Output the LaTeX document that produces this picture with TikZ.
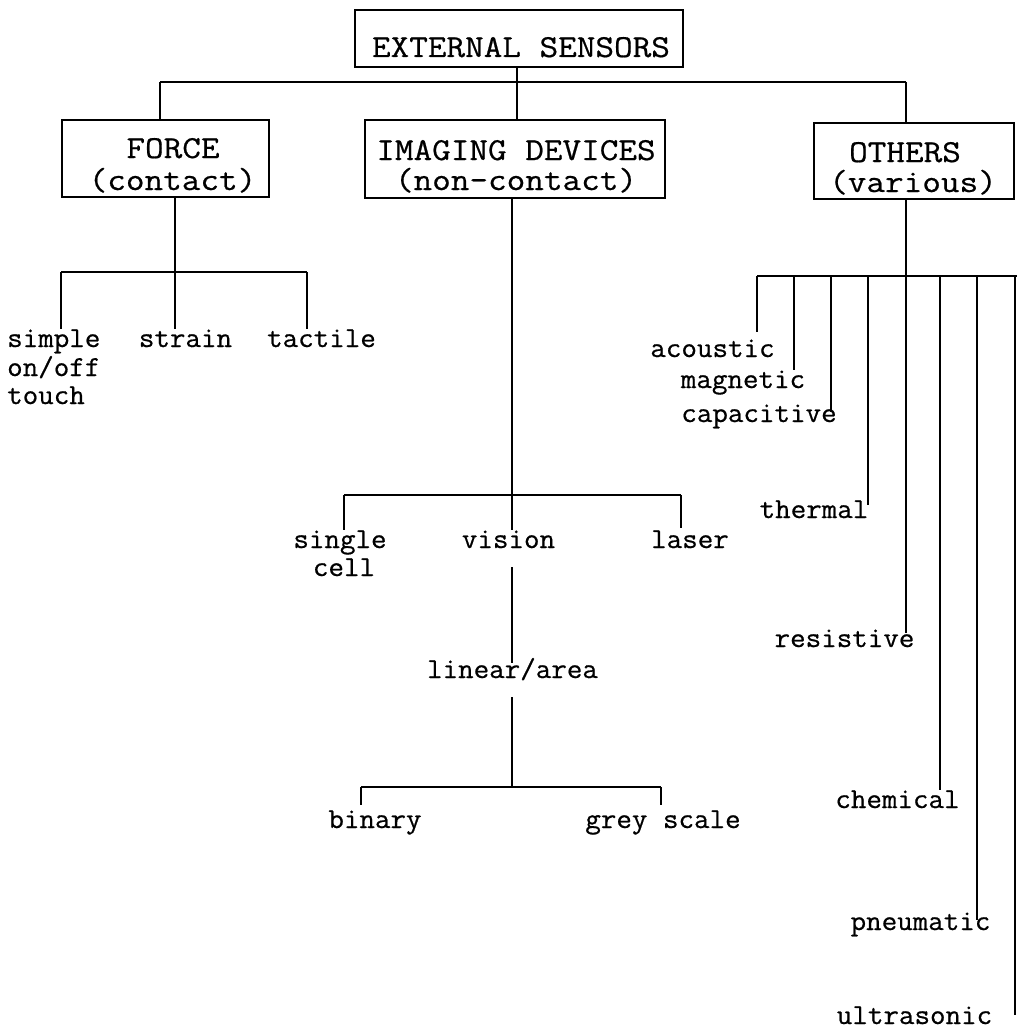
\documentclass[tikz,border=0pt]{standalone}
\usepackage{fontspec}
\newfontfamily\courT[FakeStretch=1.13,FakeBold=0.6]{Latin Modern Mono}
\newfontfamily\courL[FakeStretch=1.04,FakeBold=0.6]{Latin Modern Mono}
\begin{document}
\begin{tikzpicture}[x=1pt,y=-1pt,
  conn/.style={line width=2.2pt},
  box/.style={draw,line width=2.2pt,rectangle,inner sep=0pt},
  big/.style={font=\fontsize{32}{32}\selectfont\courT,inner sep=0pt,anchor=base},
  lab/.style={font=\fontsize{29}{29}\selectfont\courL,inner sep=0pt,anchor=base}]
\useasboundingbox[fill=white] (0,0) rectangle (1018,1030);

% ---- boxes ----
\node[box,minimum width=328pt,minimum height=57pt] (root) at (519,38.5) {};
\node[big] (rootT) at (521,57) {EXTERNAL SENSORS};

\node[box,minimum width=207pt,minimum height=77pt] (force) at (165.5,158.5) {};
\node[big] (forceT1) at (173,158) {FORCE};
\node[big] (forceT2) at (172.5,190) {(contact)};

\node[box,minimum width=300pt,minimum height=78pt] (imaging) at (515,159) {};
\node[big] (imagingT1) at (516,160) {IMAGING DEVICES};
\node[big] (imagingT2) at (516,190) {(non-contact)};

\node[box,minimum width=200pt,minimum height=76pt] (others) at (914,161) {};
\node[big] (othersT1) at (905,162) {OTHERS};
\node[big] (othersT2) at (913,192) {(various)};

% ---- top bus ----
\coordinate (bL) at (160,82);
\coordinate (bM) at (517,82);
\coordinate (bR) at (906,82);
\draw[conn] (root.south -| bM) -- (bM);
\draw[conn] (bL) -- (bR);
\draw[conn] (bL) -- (bL |- force.north);
\draw[conn] (bM) -- (bM |- imaging.north);
\draw[conn] (bR) -- (bR |- others.north);

% ---- FORCE subtree ----
\node[lab,anchor=base west] (simple1) at (7,347) {simple};
\node[lab,anchor=base west] (simple2) at (7,376) {on/off};
\node[lab,anchor=base west] (simple3) at (7,404) {touch};
\node[lab] (strain) at (185.5,347) {strain};
\node[lab] (tactile) at (321.5,347) {tactile};
\coordinate (fb) at (175,272);
\coordinate (fbL) at (61,272);
\coordinate (fbR) at (307,272);
\coordinate (fe1) at (61,329);
\coordinate (fe2) at (175,329);
\coordinate (fe3) at (307,329);
\draw[conn] (force.south -| fb) -- (fb);
\draw[conn] (fbL) -- (fbR);
\draw[conn] (fbL) -- (fe1);
\draw[conn] (fb) -- (fe2);
\draw[conn] (fbR) -- (fe3);

% ---- IMAGING subtree ----
\node[lab] (single1) at (340,548) {single};
\node[lab] (single2) at (344,576) {cell};
\node[lab] (vision) at (508.5,548) {vision};
\node[lab] (laser) at (690,548) {laser};
\coordinate (ib) at (512,495);
\coordinate (ibL) at (344,495);
\coordinate (ibR) at (681,495);
\coordinate (ie1) at (344,530);
\coordinate (ie2) at (512,530);
\coordinate (ie3) at (681,528);
\draw[conn] (imaging.south -| ib) -- (ib);
\draw[conn] (ibL) -- (ibR);
\draw[conn] (ibL) -- (ie1);
\draw[conn] (ib) -- (ie2);
\draw[conn] (ibR) -- (ie3);

\node[lab] (linear) at (512.5,678) {linear/area};
\coordinate (vs) at (512,567);
\coordinate (ve) at (512,663);
\draw[conn] (vs) -- (ve);

\node[lab] (binary) at (375,828) {binary};
\node[lab] (grey) at (663,828) {grey scale};
\coordinate (ls) at (512,697);
\coordinate (lb) at (512,787);
\coordinate (lbL) at (361,787);
\coordinate (lbR) at (661,787);
\coordinate (le1) at (361,805);
\coordinate (le2) at (661,805);
\draw[conn] (ls) -- (lb);
\draw[conn] (lbL) -- (lbR);
\draw[conn] (lbL) -- (le1);
\draw[conn] (lbR) -- (le2);

% ---- OTHERS subtree ----
\node[lab] (acoustic) at (712.5,357) {acoustic};
\node[lab] (magnetic) at (743,388) {magnetic};
\node[lab] (capacitive) at (759,422) {capacitive};
\node[lab] (thermal) at (814,518) {thermal};
\node[lab] (resistive) at (844.5,647) {resistive};
\node[lab] (chemical) at (897.5,808) {chemical};
\node[lab] (pneumatic) at (920.5,930) {pneumatic};
\node[lab] (ultrasonic) at (914.5,1024) {ultrasonic};

\coordinate (ob) at (906,276);
\coordinate (obL) at (757,276);
\coordinate (obR) at (1017,276);
\draw[conn] (others.south -| ob) -- (ob);
\draw[conn] (obL) -- (obR);
\foreach \n/\x/\e in {a/757/332, b/794/370, c/831/412, d/868/505, e/906/633, f/940/790, g/977/920, h/1015/1015}{
  \coordinate (ot\n) at (\x,276);
  \coordinate (oe\n) at (\x,\e);
  \draw[conn] (ot\n) -- (oe\n);
}
\end{tikzpicture}
\end{document}
